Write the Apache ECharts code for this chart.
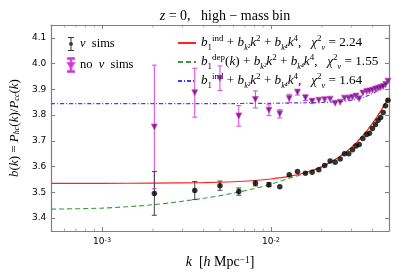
<!DOCTYPE html>
<html>
<head>
<meta charset="utf-8">
<script src="https://cdn.jsdelivr.net/npm/echarts@6/dist/echarts.min.js"></script>
<style>html,body{margin:0;padding:0;background:#fff}#c{width:399px;height:279px}</style>
</head>
<body>
<div id="c"></div>
<script>
// ---- data ----
const kBins = [0.00204, 0.00354, 0.00499, 0.00645, 0.00809, 0.00973, 0.01128, 0.01283, 0.01436, 0.01600, 0.01753, 0.01920, 0.02080, 0.02240, 0.02400, 0.02570, 0.02724, 0.02888, 0.03040, 0.03190, 0.03330, 0.03500, 0.03690, 0.03830, 0.03990, 0.04160, 0.04310, 0.04460, 0.04620, 0.04770, 0.04930];
const nuSims = [3.496, 3.507, 3.526, 3.503, 3.535, 3.530, 3.522, 3.568, 3.581, 3.574, 3.578, 3.588, 3.604, 3.622, 3.617, 3.630, 3.650, 3.650, 3.666, 3.680, 3.686, 3.709, 3.725, 3.730, 3.748, 3.764, 3.780, 3.791, 3.810, 3.836, 3.858];
const nuErr = [0.085, 0.035, 0.018, 0.014, 0.010, 0.008, 0.006, 0.005, 0.005, 0.004, 0.004, 0.004, 0.003, 0.003, 0.003, 0.003, 0.003, 0.003, 0.003, 0.003, 0.003, 0.003, 0.003, 0.003, 0.003, 0.003, 0.003, 0.003, 0.003, 0.003, 0.003];
const noNuSims = [3.754, 3.887, 3.943, 3.797, 3.861, 3.819, 3.805, 3.865, 3.889, 3.867, 3.854, 3.858, 3.860, 3.862, 3.846, 3.850, 3.866, 3.866, 3.869, 3.874, 3.864, 3.886, 3.892, 3.894, 3.897, 3.901, 3.904, 3.907, 3.911, 3.919, 3.932];
const noNuErr = [0.240, 0.095, 0.048, 0.040, 0.033, 0.021, 0.016, 0.016, 0.011, 0.010, 0.008, 0.006, 0.005, 0.005, 0.004, 0.004, 0.004, 0.004, 0.003, 0.003, 0.003, 0.003, 0.003, 0.003, 0.003, 0.003, 0.003, 0.003, 0.003, 0.003, 0.003];

const fitK     = [0.0005, 0.001, 0.002, 0.004, 0.006, 0.008, 0.010, 0.013, 0.016, 0.020, 0.025, 0.030, 0.035, 0.040, 0.045, 0.0494];
const fitIndNu = [3.535, 3.535, 3.536, 3.538, 3.541, 3.546, 3.552, 3.563, 3.577, 3.600, 3.635, 3.675, 3.720, 3.769, 3.820, 3.864];
const fitDepNu = [3.435, 3.439, 3.452, 3.477, 3.497, 3.515, 3.532, 3.556, 3.574, 3.599, 3.635, 3.676, 3.721, 3.769, 3.819, 3.862];
const fitNoNu  = [3.845, 3.845, 3.845, 3.845, 3.845, 3.846, 3.846, 3.847, 3.848, 3.849, 3.852, 3.858, 3.868, 3.884, 3.905, 3.928];

const minorTicksX = [0.0006, 0.0007, 0.0008, 0.0009, 0.002, 0.003, 0.004, 0.005, 0.006, 0.007, 0.008, 0.009, 0.02, 0.03, 0.04];
const xMin = 0.0005, xMax = 0.05, yMin = 3.35, yMax = 4.15;

const SERIF = 'Liberation Serif';
const SANS = 'DejaVu Sans';
const FRAME = '#808080';

const zip = (a, b, c) => a.map((v, i) => c ? [v, b[i], c[i]] : [v, b[i]]);

function errRender(color) {
  return function (params, api) {
    const x = api.value(0), y = api.value(1), e = api.value(2);
    const t = api.coord([x, y + e]), b = api.coord([x, y - e]);
    if (Math.abs(b[1] - t[1]) < 4) return null;
    const w = 2.5;
    const st = { stroke: color, lineWidth: 1 };
    return { type: 'group', children: [
      { type: 'line', shape: { x1: t[0], y1: t[1], x2: b[0], y2: b[1] }, style: st },
      { type: 'line', shape: { x1: t[0] - w, y1: t[1], x2: t[0] + w, y2: t[1] }, style: st },
      { type: 'line', shape: { x1: b[0] - w, y1: b[1], x2: b[0] + w, y2: b[1] }, style: st }
    ]};
  };
}

const mathRich = (fs) => ({
  i: { fontFamily: SERIF, fontStyle: 'italic', fontSize: fs, color: '#000' },
  r: { fontFamily: SERIF, fontSize: fs, color: '#000' },
  sup: { fontFamily: SERIF, fontSize: fs * 0.68, verticalAlign: 'top', lineHeight: 9, color: '#000' },
  sub: { fontFamily: SERIF, fontSize: fs * 0.68, verticalAlign: 'bottom', lineHeight: 9, color: '#000' },
  subi: { fontFamily: SERIF, fontStyle: 'italic', fontSize: fs * 0.62, verticalAlign: 'bottom', lineHeight: 9, color: '#000' }
});

const legendText = {
  nu: '{i|ν}{r|  sims}',
  nonu: '{r|no  }{i|ν}{r|  sims}',
  ind: '{i|b}{sub|1}{sup|ind}{r| + }{i|b}{subi|k²}{i|k}{sup|2}{r| + }{i|b}{subi|k⁴}{i|k}{sup|4}{r|,   }{i|χ}{sup|2}{subi|ν}{r| = 2.24}',
  dep: '{i|b}{sub|1}{sup|dep}{r|(}{i|k}{r|) + }{i|b}{subi|k²}{i|k}{sup|2}{r| + }{i|b}{subi|k⁴}{i|k}{sup|4}{r|,   }{i|χ}{sup|2}{subi|ν}{r| = 1.55}',
  nonufit: '{i|b}{sub|1}{sup|ind}{r| + }{i|b}{subi|k²}{i|k}{sup|2}{r| + }{i|b}{subi|k⁴}{i|k}{sup|4}{r|,   }{i|χ}{sup|2}{subi|ν}{r| = 1.64}'
};

const errIcon = 'path://M1,0H7V1H1ZM3.5,0H4.5V14H3.5ZM1,13H7V14H1ZM2,7L2.6,5.6L4,5L5.4,5.6L6,7L5.4,8.4L4,9L2.6,8.4Z';
const triIcon = 'path://M1,0H7V1H1ZM3.5,0H4.5V14H3.5ZM1,13H7V14H1ZM1,5H7L4,10Z';

const chart = echarts.init(document.getElementById('c'), null, { renderer: 'canvas' });
const axisCommon = {
  type: 'log', logBase: 10, min: xMin, max: xMax,
  axisLine: { show: true, lineStyle: { color: FRAME, width: 1.2 } },
  axisTick: { show: true, inside: true, length: 4, lineStyle: { color: FRAME } },
  splitLine: { show: false }
};
const yCommon = {
  type: 'value', min: yMin, max: yMax, splitNumber: 8,
  axisLine: { show: true, lineStyle: { color: FRAME, width: 1.2 } },
  axisTick: { show: true, inside: true, length: 4, lineStyle: { color: FRAME } },
  splitLine: { show: false }
};

chart.setOption({
  animation: false,
  backgroundColor: '#fff',
  title: {
    text: '{i|z}{r| = 0,   high − mass bin}',
    left: 220, top: 4, textAlign: 'center',
    textStyle: { fontSize: 14, fontWeight: 'normal', rich: mathRich(14) }
  },
  grid: { left: 49, right: 10, top: 25, bottom: 48 },
  xAxis: [
    Object.assign({}, axisCommon, {
      position: 'bottom',
      axisLabel: {
        margin: 6,
        formatter: function (v) {
          const e = Math.round(Math.log10(v));
          if (Math.abs(Math.log10(v) - e) > 1e-6) return '';
          return '{n|10}{s|' + (e < 0 ? '-' : '') + Math.abs(e) + '}';
        },
        rich: {
          n: { fontFamily: SANS, fontSize: 9, color: '#000' },
          s: { fontFamily: SANS, fontSize: 6.5, verticalAlign: 'top', lineHeight: 8, color: '#000' }
        }
      },
      name: '{i|k}{r|  [}{i|h}{r| Mpc}{sup|−1}{r|]}',
      nameLocation: 'middle', nameGap: 24,
      nameTextStyle: { fontSize: 14, rich: mathRich(14) }
    }),
    Object.assign({}, axisCommon, { position: 'top', axisLabel: { show: false } })
  ],
  yAxis: [
    Object.assign({}, yCommon, {
      position: 'left',
      axisLabel: {
        margin: 5, showMinLabel: false, showMaxLabel: false,
        fontFamily: SANS, fontSize: 9, color: '#000',
        formatter: v => (Math.abs(v * 10 - Math.round(v * 10)) < 1e-6 ? v.toFixed(1) : '')
      },
      name: '{i|b}{r|(}{i|k}{r|) = }{i|P}{subi|hc}{r|(}{i|k}{r|)/}{i|P}{subi|cc}{r|(}{i|k}{r|)}',
      nameLocation: 'middle', nameRotate: 90, nameGap: 28,
      nameTextStyle: { fontSize: 13, rich: mathRich(13) }
    }),
    Object.assign({}, yCommon, { position: 'right', axisLabel: { show: false } })
  ],
  legend: [
    {
      left: 62, top: 32, orient: 'vertical', itemGap: 6, itemWidth: 8, itemHeight: 14,
      data: [{ name: 'nu', icon: errIcon }, { name: 'nonu', icon: triIcon }],
      formatter: n => legendText[n],
      textStyle: { fontSize: 12.5, lineHeight: 14, rich: mathRich(12.5) },
      selectedMode: false
    },
    {
      left: 172, top: 29, orient: 'vertical', itemGap: 1, itemWidth: 18, itemHeight: 10,
      itemStyle: { opacity: 0, borderWidth: 0 },
      lineStyle: { opacity: 1 },
      data: [{ name: 'ind', icon: 'inherit' }, { name: 'dep', icon: 'inherit' }, { name: 'nonufit', icon: 'inherit' }],
      formatter: n => legendText[n],
      textStyle: { fontSize: 13.2, lineHeight: 18, rich: mathRich(13.2) },
      selectedMode: false
    }
  ],
  series: [
    { name: 'minorB', type: 'scatter', silent: true, clip: false, symbol: 'rect', symbolSize: [0.8, 2.5], symbolOffset: [0, -1.25],
      itemStyle: { color: FRAME }, data: minorTicksX.map(k => [k, yMin]), z: 1 },
    { name: 'minorT', type: 'scatter', silent: true, clip: false, symbol: 'rect', symbolSize: [0.8, 2.5], symbolOffset: [0, 1.25],
      itemStyle: { color: FRAME }, data: minorTicksX.map(k => [k, yMax]), z: 1 },
    { name: 'nonufit', type: 'line', smooth: 0.3, symbol: 'none', showSymbol: false, data: zip(fitK, fitNoNu),
      lineStyle: { color: '#3d3dff', width: 1.2, type: [4, 2, 1, 2] }, itemStyle: { color: '#3d3dff' }, z: 2 },
    { name: 'dep', type: 'line', smooth: 0.3, symbol: 'none', showSymbol: false, data: zip(fitK, fitDepNu),
      lineStyle: { color: '#3a9a3a', width: 1.1, type: [5, 3] }, itemStyle: { color: '#3a9a3a' }, z: 2 },
    { name: 'ind', type: 'line', smooth: 0.3, symbol: 'none', showSymbol: false, data: zip(fitK, fitIndNu),
      lineStyle: { color: '#ff2020', width: 1.1 }, itemStyle: { color: '#ff2020' }, z: 3 },
    { name: 'nonuErr', type: 'custom', renderItem: errRender('#e040e0'), data: zip(kBins, noNuSims, noNuErr), z: 4 },
    { name: 'nuErr', type: 'custom', renderItem: errRender('#444'), data: zip(kBins, nuSims, nuErr), z: 5 },
    { name: 'nonu', type: 'scatter', symbol: 'triangle', symbolRotate: 180, symbolSize: 6,
      itemStyle: { color: '#5e0a6e', borderColor: '#d83ad8', borderWidth: 0.8 }, data: zip(kBins, noNuSims), z: 6 },
    { name: 'nu', type: 'scatter', symbol: 'circle', symbolSize: 5.5,
      itemStyle: { color: '#000' }, data: zip(kBins, nuSims), z: 7 }
  ]
});
</script>
</body>
</html>
